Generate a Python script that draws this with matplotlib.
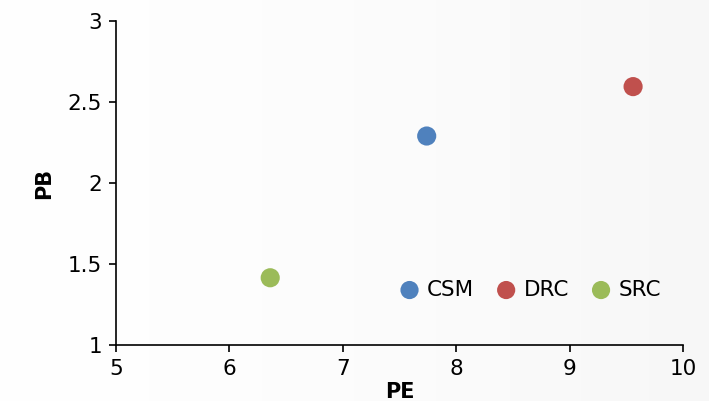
import numpy as np
import matplotlib
matplotlib.use("Agg")
import matplotlib.pyplot as plt

# values
names = ["CSM", "DRC", "SRC"]
pe = [7.74, 9.56, 6.36]
pb = [2.29, 2.595, 1.415]
colors = ["#4f81bd", "#c0504d", "#9bbb59"]

plt.rcParams.update({"font.family": "DejaVu Sans", "font.size": 15.5})

fig = plt.figure(figsize=(7.09, 4.01), dpi=100)

# very subtle light-grey background gradient
bg = fig.add_axes([0, 0, 1, 1], zorder=-10)
gx = np.linspace(0, 1, 200)
grad = np.tile(0.995 - 0.03 * gx ** 1.5, (50, 1))
bg.imshow(grad, cmap="gray", vmin=0, vmax=1, aspect="auto", extent=[0, 1, 0, 1])
bg.axis("off")

ax = fig.add_axes([0.1636, 0.1397, 0.7997, 0.8079])
ax.patch.set_alpha(0)
for n, x, y, c in zip(names, pe, pb, colors):
    ax.scatter(x, y, s=190, color=c, edgecolors="none", label=n, zorder=3)

ax.set_xlim(5, 10)
ax.set_ylim(1, 3)
ax.set_xticks([5, 6, 7, 8, 9, 10])
ax.set_yticks([1, 1.5, 2, 2.5, 3])
ax.set_yticklabels(["1", "1.5", "2", "2.5", "3"])
ax.tick_params(direction="out", length=5, width=1.2, pad=5)
for s in ("top", "right"):
    ax.spines[s].set_visible(False)
for s in ("left", "bottom"):
    ax.spines[s].set_linewidth(1.2)

ax.set_xlabel("PE", fontweight="bold", fontsize=15, labelpad=2)
ax.set_ylabel("PB", fontweight="bold", fontsize=15, labelpad=10)

ax.legend(loc="lower right", bbox_to_anchor=(0.995, 0.08), ncol=3, frameon=False,
          handletextpad=-0.2, columnspacing=0.5, markerscale=0.95, fontsize=15.5)

fig.savefig("out.png", dpi=100)
